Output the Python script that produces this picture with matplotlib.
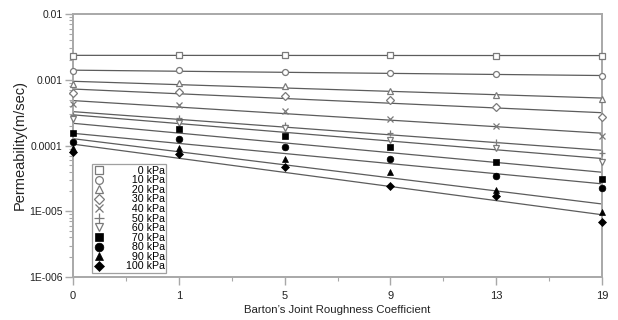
import numpy as np
import matplotlib
matplotlib.use("Agg")
import matplotlib.pyplot as plt
from matplotlib.ticker import FixedLocator, LogLocator, NullFormatter

plt.rcParams['font.family'] = ['Liberation Sans', 'DejaVu Sans']

# categories on the x axis (Barton's JRC)
jrc_labels = ["0", "1", "5", "9", "13", "19"]

# series (normal stress) and permeability values (m/sec)
series_names = ["0 kPa", "10 kPa", "20 kPa", "30 kPa", "40 kPa", "50 kPa",
                "60 kPa", "70 kPa", "80 kPa", "90 kPa", "100 kPa"]
k_0kpa   = [2.31e-3, 2.38e-3, 2.36e-3, 2.36e-3, 2.32e-3, 2.32e-3]
k_10kpa  = [1.34e-3, 1.41e-3, 1.31e-3, 1.25e-3, 1.21e-3, 1.14e-3]
k_20kpa  = [8.69e-4, 8.83e-4, 8.04e-4, 6.81e-4, 5.86e-4, 5.05e-4]
k_30kpa  = [6.27e-4, 6.44e-4, 5.66e-4, 4.86e-4, 3.89e-4, 2.74e-4]
k_40kpa  = [4.26e-4, 4.09e-4, 3.35e-4, 2.50e-4, 1.98e-4, 1.41e-4]
k_50kpa  = [2.93e-4, 2.59e-4, 2.05e-4, 1.57e-4, 1.14e-4, 7.60e-5]
k_60kpa  = [2.53e-4, 2.22e-4, 1.87e-4, 1.21e-4, 9.06e-5, 5.55e-5]
k_70kpa  = [1.56e-4, 1.76e-4, 1.40e-4, 9.50e-5, 5.55e-5, 3.06e-5]
k_80kpa  = [1.13e-4, 1.26e-4, 9.50e-5, 6.17e-5, 3.38e-5, 2.28e-5]
k_90kpa  = [9.08e-5, 9.27e-5, 6.30e-5, 3.99e-5, 2.11e-5, 9.84e-6]
k_100kpa = [8.05e-5, 7.35e-5, 4.71e-5, 2.42e-5, 1.71e-5, 6.93e-6]

y_ticks = [1e-6, 1e-5, 1e-4, 1e-3, 1e-2]
y_tick_labels = ["1E-006", "1E-005", "0.0001", "0.001", "0.01"]

series_values = [k_0kpa, k_10kpa, k_20kpa, k_30kpa, k_40kpa, k_50kpa,
                 k_60kpa, k_70kpa, k_80kpa, k_90kpa, k_100kpa]
markers = ['s', 'o', '^', 'D', 'x', '+', 'v', 's', 'o', '^', 'D']
filled = [False] * 7 + [True] * 4
msizes = [4.3, 4.3, 4.3, 3.6, 4.5, 5.0, 4.3, 4.8, 4.8, 4.8, 4.0]

fig = plt.figure(figsize=(6.18, 3.20), dpi=100)
ax = fig.add_axes([73 / 618, 1 - 277 / 320, (602 - 73) / 618, (277 - 14) / 320])

xpos = np.arange(len(jrc_labels))
line_col = '#5c5c5c'
open_col = '#7a7a7a'

handles = []
for name, vals, m, f, ms in zip(series_names, series_values, markers, filled, msizes):
    v = np.array(vals)
    coef = np.polyfit(xpos, np.log10(v), 1)
    xf = np.array([xpos[0], xpos[-1]])
    ax.plot(xf, 10 ** np.polyval(coef, xf), color=line_col, lw=0.9, zorder=2)
    if f:
        h, = ax.plot(xpos, v, linestyle='none', marker=m, ms=ms, mfc='black',
                     mec='black', mew=0.5, clip_on=False, zorder=3, label=name)
    else:
        h, = ax.plot(xpos, v, linestyle='none', marker=m, ms=ms, mfc='white',
                     mec=open_col, mew=0.9, clip_on=False, zorder=3, label=name)
    handles.append(h)

ax.set_yscale('log')
ax.set_ylim(1e-6, 1e-2)
ax.set_xlim(xpos[0], xpos[-1])

ax.yaxis.set_major_locator(FixedLocator(y_ticks))
ax.set_yticklabels(y_tick_labels)
ax.yaxis.set_minor_locator(LogLocator(base=10, subs=np.arange(2, 10)))
ax.yaxis.set_minor_formatter(NullFormatter())

ax.set_xticks(xpos)
ax.set_xticklabels(jrc_labels)
ax.set_xticks(xpos[:-1] + 0.5, minor=True)

spine_col = '#a8a8a8'
for s in ax.spines.values():
    s.set_color(spine_col)
    s.set_linewidth(1.4)
ax.tick_params(which='major', direction='out', length=6, width=1, color=spine_col,
               labelcolor='#222222')
ax.tick_params(axis='y', which='major', labelsize=7.5, pad=1.5)
ax.tick_params(axis='x', which='major', labelsize=8, pad=4)
ax.tick_params(which='minor', direction='out', length=3, width=0.8, color=spine_col)

ax.set_xlabel("Barton\u2019s Joint Roughness Coefficient", fontsize=8.2, color='#222222', labelpad=3)
ax.set_ylabel("Permeability(m/sec)", fontsize=10.5, color='#222222')
ax.yaxis.set_label_coords(-0.088, 0.5)

# right-align legend texts by padding with figure spaces
maxlen = max(len(n) for n in series_names)
leg_labels = ["\u2007" * (maxlen - len(n)) + n for n in series_names]
leg = ax.legend(handles=handles, labels=leg_labels, loc='lower left',
                bbox_to_anchor=(19 / 529, 4 / 263),
                fontsize=7.7, frameon=True, fancybox=False, labelspacing=-0.04,
                handlelength=1.0, handletextpad=2.0, borderpad=0.15,
                borderaxespad=0, markerscale=1.3)
leg.get_frame().set_edgecolor('#888888')
leg.get_frame().set_linewidth(0.9)

fig.savefig("out.png", dpi=100)
